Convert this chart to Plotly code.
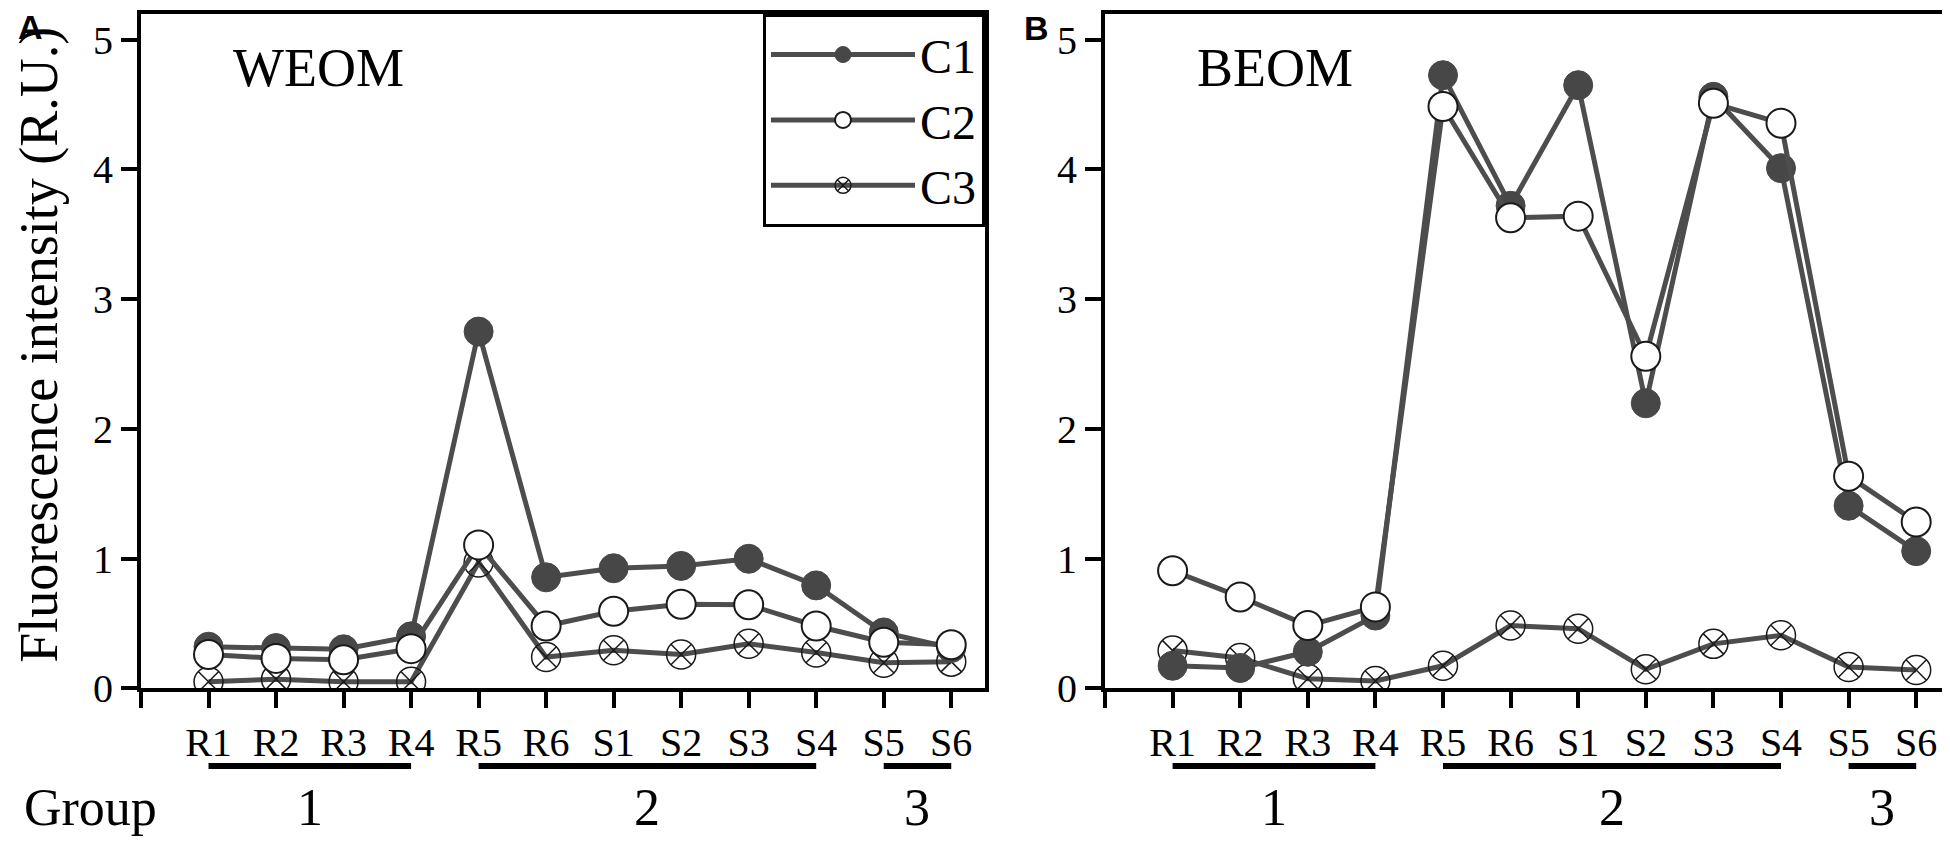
import plotly.graph_objects as go

# ---------------- data ----------------
categories = ["R1", "R2", "R3", "R4", "R5", "R6", "S1", "S2", "S3", "S4", "S5", "S6"]

weom_c1 = [0.32, 0.31, 0.30, 0.40, 2.75, 0.855, 0.925, 0.943, 0.998, 0.793, 0.43, 0.31]
weom_c2 = [0.26, 0.23, 0.22, 0.305, 1.105, 0.48, 0.593, 0.648, 0.643, 0.48, 0.355, 0.335]
weom_c3 = [0.05, 0.07, 0.05, 0.05, 0.97, 0.24, 0.293, 0.26, 0.343, 0.275, 0.197, 0.205]

beom_c1 = [0.173, 0.156, 0.281, 0.56, 4.727, 3.72, 4.65, 2.197, 4.56, 4.01, 1.407, 1.057]
beom_c2 = [0.906, 0.704, 0.483, 0.627, 4.485, 3.628, 3.64, 2.56, 4.51, 4.357, 1.635, 1.282]
beom_c3 = [0.29, 0.233, 0.073, 0.056, 0.173, 0.483, 0.459, 0.146, 0.342, 0.408, 0.163, 0.14]

group_labels = ["1", "2", "3"]
group_members = [["R1", "R2", "R3", "R4"],
                 ["R5", "R6", "S1", "S2", "S3", "S4"],
                 ["S5", "S6"]]
y_ticks = [0, 1, 2, 3, 4, 5]
panel_titles = ["WEOM", "BEOM"]
panel_letters = ["A", "B"]
series_names = ["C1", "C2", "C3"]

# ---------------- layout constants ----------------
W, H = 1950, 856
SERIF = "Liberation Serif"
SANS = "Liberation Sans"
LINE_COL = "#4d4d4d"
FILL_COL = "#474747"
EDGE_COL = "#1a1a1a"

x_pos = list(range(1, len(categories) + 1))
pos_of = {c: i + 1 for i, c in enumerate(categories)}

def px_x(v):
    return v / W

def px_y(v):
    return 1 - v / H

styles = {
    "C1": dict(symbol="circle", color=FILL_COL, line=dict(color=FILL_COL, width=1)),
    "C2": dict(symbol="circle", color="white", line=dict(color=EDGE_COL, width=2)),
    "C3": dict(symbol="circle-x-open", color=EDGE_COL, line=dict(color=EDGE_COL, width=1.5)),
}
rank = {"C1": 1, "C2": 2, "C3": 3}

fig = go.Figure()

panels = [
    ("x", "y", {"C1": weom_c1, "C2": weom_c2, "C3": weom_c3}, True),
    ("x2", "y2", {"C1": beom_c1, "C2": beom_c2, "C3": beom_c3}, False),
]
for xa, ya, series, show in panels:
    for name in ["C3", "C1", "C2"]:  # drawing order as in the figure
        st = styles[name]
        fig.add_trace(go.Scatter(
            x=x_pos, y=series[name], name=name, mode="lines+markers",
            xaxis=xa, yaxis=ya, showlegend=show, legendrank=rank[name],
            line=dict(color=LINE_COL, width=5),
            marker=dict(size=29, symbol=st["symbol"], color=st["color"], line=st["line"]),
        ))

axis_common = dict(
    showgrid=False, zeroline=False, showline=True, linecolor="black", linewidth=4,
    mirror=True, ticks="outside", ticklen=16, tickwidth=4, tickcolor="black",
    tickfont=dict(family=SERIF, size=40, color="black"),
)
xdef = dict(axis_common, range=[0, 12.5], tickmode="array",
            tickvals=[0] + x_pos, ticktext=[""] + categories)
ydef = dict(axis_common, range=[0, 5.2], tickmode="array", tickvals=y_ticks,
            ticktext=[str(t) for t in y_ticks])

ydom = [px_y(699), px_y(6)]
fig.update_layout(
    width=W, height=H,
    margin=dict(l=0, r=0, t=0, b=0),
    paper_bgcolor="white", plot_bgcolor="white",
    font=dict(family=SERIF, color="black"),
    xaxis=dict(xdef, domain=[px_x(133), px_x(977)], anchor="y"),
    yaxis=dict(ydef, domain=ydom, anchor="x"),
    xaxis2=dict(xdef, domain=[px_x(1097), px_x(1942)], anchor="y2"),
    yaxis2=dict(ydef, domain=ydom, anchor="x2"),
    legend=dict(
        x=px_x(977), xanchor="right", y=px_y(6), yanchor="top",
        bgcolor="white", bordercolor="black", borderwidth=3,
        font=dict(family=SERIF, size=48, color="black"),
        itemwidth=144, tracegroupgap=0,
    ),
    showlegend=True,
)

annotations = []
shapes = []
# y-axis title
annotations.append(dict(
    text="Fluorescence intensity (R.U.)", textangle=-90, showarrow=False,
    xref="paper", yref="paper", x=px_x(31), y=px_y(346),
    xanchor="center", yanchor="middle",
    font=dict(family=SERIF, size=54, color="black"),
))
for i, (xa, ya) in enumerate([("x", "y"), ("x2", "y2")]):
    annotations.append(dict(
        text=panel_titles[i], showarrow=False,
        xref=f"{xa} domain", yref=f"{ya} domain", x=90 / 844, y=0.92,
        xanchor="left", yanchor="middle",
        font=dict(family=SERIF, size=54, color="black"),
    ))
    for g, members in zip(group_labels, group_members):
        a, b = pos_of[members[0]], pos_of[members[-1]]
        shapes.append(dict(type="line", xref=xa, yref="paper",
                           x0=a, x1=b, y0=px_y(779), y1=px_y(779),
                           line=dict(color="black", width=6)))
        annotations.append(dict(
            text=g, showarrow=False, xref=xa, yref="paper",
            x=(a + b) / 2, y=px_y(822), xanchor="center", yanchor="middle",
            font=dict(family=SERIF, size=52, color="black"),
        ))
annotations.append(dict(
    text="Group", showarrow=False, xref="paper", yref="paper",
    x=px_x(82), y=px_y(822), xanchor="center", yanchor="middle",
    font=dict(family=SERIF, size=52, color="black"),
))
for letter, xc, yc in [(panel_letters[0], 22, 20), (panel_letters[1], 1028, 21)]:
    annotations.append(dict(
        text=f"<b>{letter}</b>", showarrow=False, xref="paper", yref="paper",
        x=px_x(xc), y=px_y(yc), xanchor="center", yanchor="middle",
        font=dict(family=SANS, size=34, color="black"),
    ))

fig.update_layout(annotations=annotations, shapes=shapes)
fig.write_html("out.html")
